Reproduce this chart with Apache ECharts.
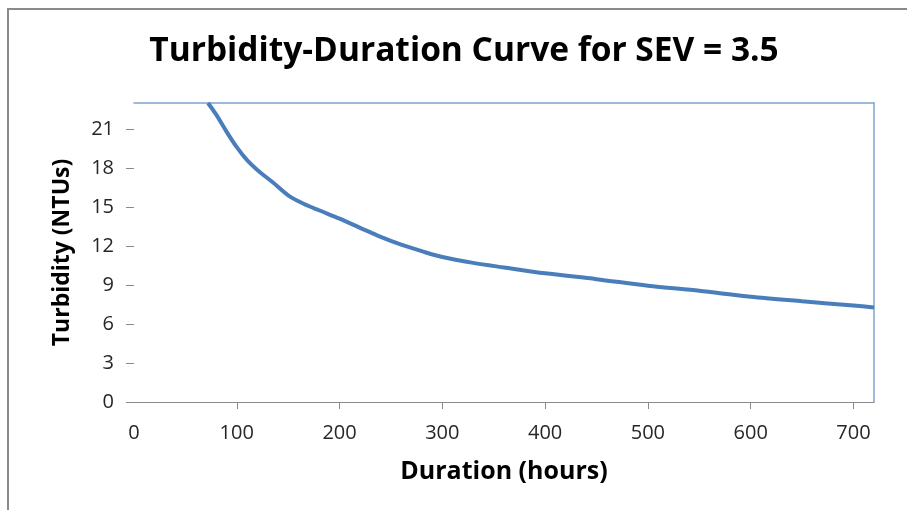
<!DOCTYPE html>
<html>
<head>
<meta charset="utf-8">
<script src="https://cdn.jsdelivr.net/npm/echarts@6/dist/echarts.min.js"></script>
<style>html,body{margin:0;padding:0;background:#fff}#c{width:907px;height:510px}</style>
</head>
<body>
<div id="c"></div>
<script>
const durationHours = [72, 80, 90, 100, 110, 120, 135, 150, 165, 180, 200, 220, 240, 260, 280, 300, 330, 360, 400, 450, 500, 550, 600, 650, 700, 720];
const turbidityNTU = [23.0, 22.1, 20.8, 19.6, 18.6, 17.85, 16.9, 15.9, 15.25, 14.75, 14.1, 13.4, 12.7, 12.1, 11.6, 11.15, 10.7, 10.35, 9.9, 9.45, 8.95, 8.55, 8.1, 7.75, 7.42, 7.27];
const xTickLabels = [0, 100, 200, 300, 400, 500, 600, 700];
const yTickLabels = [0, 3, 6, 9, 12, 15, 18, 21];

const chart = echarts.init(document.getElementById('c'));
const labelFont = 'Open Sans, Liberation Sans, sans-serif';
chart.setOption({
  animation: false,
  title: {
    text: 'Turbidity-Duration Curve for SEV = 3.5',
    left: 459, top: 29, textAlign: 'center',
    textStyle: { fontFamily: labelFont, fontWeight: 'bold', fontSize: 33.5, color: '#000' }
  },
  grid: { left: 134, right: 33, top: 103, bottom: 108, containLabel: false },
  graphic: [{
    type: 'rect', shape: { x: 8, y: 9, width: 1000, height: 600 },
    style: { fill: 'none', stroke: '#8a8a8a', lineWidth: 2 }, silent: true
  }],
  xAxis: [{
    type: 'value', min: 0, max: 720, interval: 100,
    name: 'Duration (hours)', nameLocation: 'middle', nameGap: 57,
    nameTextStyle: { fontFamily: labelFont, fontWeight: 'bold', fontSize: 25, color: '#000' },
    axisLine: { show: true, lineStyle: { color: '#8a8a8a', width: 1 } },
    axisTick: { show: true, length: 7, customValues: [100, 200, 300, 400, 500, 600, 700], lineStyle: { color: '#8a8a8a' } },
    axisLabel: { customValues: xTickLabels, margin: 21, fontFamily: labelFont, fontSize: 20, color: '#262626' },
    splitLine: { show: false }
  }, {
    type: 'value', min: 0, max: 720, position: 'top',
    axisLine: { show: true, onZero: false, lineStyle: { color: '#7ea3cf', width: 1.5 } },
    axisTick: { show: false }, axisLabel: { show: false }, splitLine: { show: false }
  }],
  yAxis: [{
    type: 'value', min: 0, max: 23, interval: 3,
    name: 'Turbidity (NTUs)', nameLocation: 'middle', nameGap: 60, nameRotate: 90,
    nameTextStyle: { fontFamily: labelFont, fontWeight: 'bold', fontSize: 23, color: '#000' },
    axisLine: { show: false },
    axisTick: { show: true, inside: false, length: 8, customValues: yTickLabels, lineStyle: { color: '#8a8a8a' } },
    axisLabel: { customValues: yTickLabels, margin: 20, fontFamily: labelFont, fontSize: 20, color: '#262626' },
    splitLine: { show: false }
  }, {
    type: 'value', min: 0, max: 23, position: 'right',
    axisLine: { show: true, onZero: false, lineStyle: { color: '#7ea3cf', width: 1.5 } },
    axisTick: { show: false }, axisLabel: { show: false }, splitLine: { show: false }
  }],
  series: [{
    type: 'line',
    data: durationHours.map((d, i) => [d, turbidityNTU[i]]),
    smooth: 0.3, showSymbol: false, clip: true,
    lineStyle: { color: '#4a7ebb', width: 4 }
  }]
});
</script>
</body>
</html>
